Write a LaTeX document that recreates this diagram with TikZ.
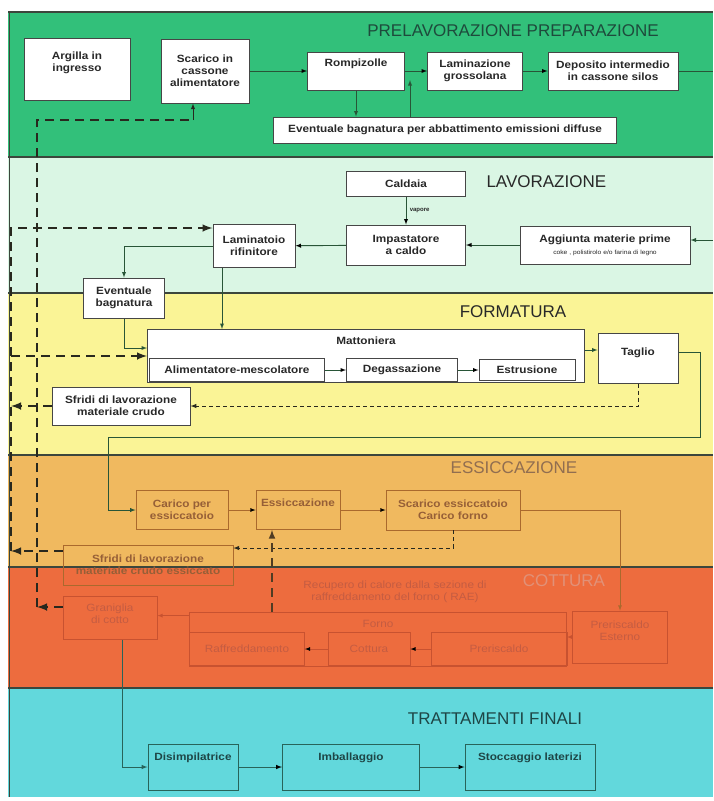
\documentclass[tikz,border=0pt]{standalone}
\usepackage{fontspec}
\setmainfont{Liberation Sans}
\newfontfamily\boxfont{Liberation Sans}[FakeStretch=1.12]
\usepackage{tikz}
\usetikzlibrary{shapes,arrows}
\usetikzlibrary{calc}
\usetikzlibrary{positioning}

\definecolor{bandgreen}{RGB}{50,192,122}
\definecolor{bandmint}{RGB}{218,246,228}
\definecolor{bandyellow}{RGB}{250,244,150}
\definecolor{bandorange}{RGB}{240,185,95}
\definecolor{bandred}{RGB}{237,108,62}
\definecolor{bandcyan}{RGB}{98,216,220}
\definecolor{bandline}{RGB}{60,70,60}
\definecolor{boxline}{RGB}{70,70,70}
\definecolor{textdark}{RGB}{40,40,40}
\definecolor{titlegreen}{RGB}{30,75,60}
\definecolor{flowgreen}{RGB}{40,85,55}
\definecolor{dryline}{RGB}{170,105,45}
\definecolor{drytext}{RGB}{150,95,55}
\definecolor{esstitle}{RGB}{145,110,80}
\definecolor{fireline}{RGB}{200,82,48}
\definecolor{firetext}{RGB}{196,92,66}
\definecolor{firetitle}{RGB}{225,145,120}
\definecolor{endline}{RGB}{40,100,90}
\definecolor{endtext}{RGB}{30,70,70}
\definecolor{retdark}{RGB}{40,40,30}

\begin{document}
\begin{tikzpicture}[x=1pt,y=-1pt,
	white_box/.style={rectangle,draw=boxline,fill=white,line width=1pt,text=textdark,align=center,inner sep=2pt,font=\boxfont\bfseries\fontsize{10.5}{12}\selectfont},
	dry_box/.style={rectangle,draw=dryline,line width=0.8pt,text=drytext,align=center,inner sep=2pt,font=\boxfont\bfseries\fontsize{10.5}{12}\selectfont},
	fire_box/.style={rectangle,draw=fireline,line width=0.8pt,text=firetext,align=center,inner sep=2pt,font=\boxfont\fontsize{10.5}{12}\selectfont},
	fire_text/.style={text=firetext,align=center,font=\boxfont\fontsize{10.5}{12.5}\selectfont},
	end_box/.style={rectangle,draw=endline,line width=1pt,text=endtext,align=center,inner sep=2pt,font=\boxfont\bfseries\fontsize{10.5}{12}\selectfont},
	band_title/.style={font=\fontsize{17}{19}\selectfont,text=textdark},
	flow/.style={->,>=latex,line width=0.9pt,draw=flowgreen},
	dry_flow/.style={->,>=latex,line width=0.8pt,draw=dryline},
	fire_flow/.style={->,>=latex,line width=0.8pt,draw=fireline},
	end_flow/.style={->,>=latex,line width=1pt,draw=endline},
	ret_line/.style={->,>=latex,line width=2.4pt,draw=retdark,dash pattern=on 9pt off 6pt},
	scrap_line/.style={->,>=latex,line width=1pt,draw=retdark,dash pattern=on 4pt off 3pt}]
	\useasboundingbox (0,0) rectangle (713,801);
	\fill[white] (0,0) rectangle (713,801);
	\fill[bandgreen] (8,12) rectangle (713,157);
	\fill[bandmint] (8,157) rectangle (713,293);
	\fill[bandyellow] (8,293) rectangle (713,455);
	\fill[bandorange] (8,455) rectangle (713,567);
	\fill[bandred] (8,567) rectangle (713,688);
	\fill[bandcyan] (8,688) rectangle (713,797);
	\foreach \y in {12,157,293,455,567,688}
		\draw[line width=1.6pt,bandline] (8,\y) -- (713,\y);
	\draw[line width=1pt,bandline] (9,12) -- (9,797);

	\node[band_title,text=titlegreen] (t1) at (513,31) {PRELAVORAZIONE PREPARAZIONE};
	\node[band_title,anchor=west] (t2) at (483,182) {LAVORAZIONE};
	\node[band_title] (t3) at (513,312) {FORMATURA};
	\node[band_title,text=esstitle] (t4) at (514,468) {ESSICCAZIONE};
	\node[band_title,text=firetitle] (t5) at (564,581) {COTTURA};
	\node[band_title,text=endtext] (t6) at (495,719) {TRATTAMENTI FINALI};

	\node[white_box,minimum width=106pt,minimum height=62pt,text depth=14pt] (argilla) at (77,69) {Argilla in\\ingresso};
	\node[white_box,minimum width=88pt,minimum height=64pt] (scarico) at (205,71) {Scarico in\\cassone\\alimentatore};
	\node[white_box,minimum width=97pt,minimum height=38pt,text depth=16pt] (rompi) at (356,71) {Rompizolle};
	\node[white_box,minimum width=95pt,minimum height=38pt] (lamin) at (475,71) {Laminazione\\grossolana};
	\node[white_box,minimum width=130pt,minimum height=38pt] (deposito) at (613,71) {Deposito intermedio\\in cassone silos};
	\node[white_box,minimum width=343pt,minimum height=26pt] (bagn1) at (445,130) {Eventuale bagnatura per abbattimento emissioni diffuse};

	\node[white_box,minimum width=119pt,minimum height=25pt] (caldaia) at (406,184) {Caldaia};
	\node[white_box,minimum width=119pt,minimum height=40pt] (impast) at (406,245) {Impastatore\\a caldo};
	\node[white_box,minimum width=170pt,minimum height=38pt] (aggiunta) at (605,245) {Aggiunta materie prime\\{\mdseries\fontsize{6}{7}\selectfont coke , polistirolo e/o farina di legno}};
	\node[white_box,minimum width=82pt,minimum height=43pt] (lamrif) at (254,246) {Laminatoio\\rifinitore};
	\node[white_box,minimum width=81pt,minimum height=40pt] (bagn2) at (124,298) {Eventuale\\bagnatura};

	\node[white_box,minimum width=437pt,minimum height=53pt,text depth=30pt] (matton) at (366,356) {Mattoniera};
	\node[white_box,minimum width=175pt,minimum height=23pt] (alim) at (237,370) {Alimentatore-mescolatore};
	\node[white_box,minimum width=111pt,minimum height=23pt] (degas) at (402,370) {Degassazione};
	\node[white_box,minimum width=96pt,minimum height=21pt] (estr) at (527,370) {Estrusione};
	\node[white_box,minimum width=80pt,minimum height=50pt,text depth=12pt] (taglio) at (638,358) {Taglio};
	\node[white_box,minimum width=138pt,minimum height=38pt] (sfridi1) at (121,406) {Sfridi di lavorazione\\materiale crudo};

	\node[dry_box,minimum width=92pt,minimum height=39pt] (carico) at (182,510) {Carico per\\essiccatoio};
	\node[dry_box,minimum width=84pt,minimum height=39pt,text depth=14pt] (essicc) at (298,510) {Essiccazione};
	\node[dry_box,minimum width=134pt,minimum height=40pt] (scarico2) at (453,510) {Scarico essiccatoio\\Carico forno};
	\node[dry_box,minimum width=170pt,minimum height=40pt] (sfridi2) at (148,565) {Sfridi di lavorazione\\materiale crudo essiccato};

	\node[fire_text] (rae) at (395,592) {Recupero di calore dalla sezione di\\raffreddamento del forno ( RAE)};
	\node[fire_box,minimum width=377pt,minimum height=54pt,text depth=30pt] (forno) at (378,639) {Forno};
	\node[fire_box,minimum width=115pt,minimum height=33pt] (raffr) at (247,649) {Raffreddamento};
	\node[fire_box,minimum width=82pt,minimum height=33pt] (cott) at (369,649) {Cottura};
	\node[fire_box,minimum width=136pt,minimum height=33pt] (prer) at (499,649) {Preriscaldo};
	\node[fire_box,minimum width=95pt,minimum height=52pt,text depth=12pt] (prerest) at (620,637) {Preriscaldo\\Esterno};
	\node[fire_box,minimum width=94pt,minimum height=43pt,text depth=8pt] (granig) at (110,618) {Graniglia\\di cotto};

	\node[end_box,minimum width=90pt,minimum height=46pt,text depth=20pt] (disimp) at (193,767) {Disimpilatrice};
	\node[end_box,minimum width=137pt,minimum height=46pt,text depth=20pt] (imball) at (351,767) {Imballaggio};
	\node[end_box,minimum width=130pt,minimum height=46pt,text depth=20pt] (stocc) at (530,767) {Stoccaggio laterizi};

	\coordinate (out_top) at (11,228);
	\coordinate (out_bot) at (11,551);
	\coordinate (in_top) at (37,120);
	\coordinate (right_in) at (713,240);
	\coordinate (right_out) at (713,71);
	\coordinate (rompi_j) at (410,80);

	\path[flow]
		(scarico) edge (rompi)
		(rompi) edge (lamin)
		(lamin) edge (deposito)
		(caldaia) edge node[right,text=textdark,font=\bfseries\fontsize{6}{7}\selectfont] (vap) {vapore} (impast)
		(aggiunta) edge (impast)
		(impast) edge (lamrif)
		(alim) edge (degas)
		(degas) edge (estr);
	\draw[flow,-] (deposito) -- (right_out);
	\draw[flow] (right_in) -- (right_in -| aggiunta.east);
	\draw[flow] (rompi.south) -- (rompi.south |- bagn1.north);
	\draw[flow] (rompi_j |- bagn1.north) -- (rompi_j);
	\draw[flow] (lamrif.west) -| (bagn2.north);
	\draw[flow] ([xshift=-32pt]lamrif.south) -- ([xshift=-32pt]lamrif.south |- matton.north);
	\draw[flow] (bagn2.south) |- ([yshift=8pt]matton.west);
	\draw[flow] ([yshift=6pt]matton.east) -- ([yshift=6pt]matton.east -| taglio.west);
	\draw[flow] ([yshift=6pt]taglio.east) -- ++(22,0) |- (108,437) |- (carico.west);
	\draw[scrap_line] (taglio.south) |- (sfridi1.east);

	\draw[ret_line] (sfridi1.west) -- (sfridi1.west -| out_top);
	\draw[ret_line] ([yshift=14pt]sfridi2.west) -- ([yshift=14pt]sfridi2.west -| out_top);
	\draw[ret_line] (out_bot) -- (out_top) -- (out_top -| lamrif.west);
	\draw[ret_line] (out_top |- matton.west) -- (matton.west);
	\draw[ret_line] ([yshift=11pt]granig.west) -- ([yshift=11pt]granig.west -| in_top);
	\draw[ret_line,-] ([yshift=11pt]granig.west -| in_top) -- (in_top) -- ([xshift=-12pt]scarico.south |- in_top);
	\draw[flow,draw=retdark] ([xshift=-12pt]scarico.south |- in_top) -- ([xshift=-12pt]scarico.south);

	\path[dry_flow]
		(carico) edge (essicc)
		(essicc) edge (scarico2);
	\draw[dry_flow] (scarico2.east) -| (prerest.north);
	\draw[scrap_line] (scarico2.south) |- ([yshift=17pt]sfridi2.east);
	\draw[ret_line,line width=2pt,draw=retdark!70!dryline] ([xshift=-26pt]essicc.south |- forno.north) -- ([xshift=-26pt]essicc.south);

	\draw[fire_flow] (prerest.west) -- (prerest.west -| forno.east);
	\path[fire_flow]
		(prer) edge (cott)
		(cott) edge (raffr);
	\draw[fire_flow] ([yshift=-4pt]forno.north west) -- ([yshift=-4pt]forno.north west -| granig.east);

	\draw[end_flow] ([xshift=12pt]granig.south) |- (disimp.west);
	\path[end_flow]
		(disimp) edge (imball)
		(imball) edge (stocc);
\end{tikzpicture}
\end{document}
